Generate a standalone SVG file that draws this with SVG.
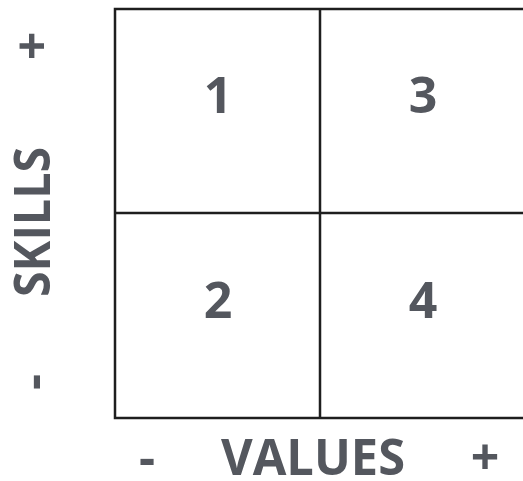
<svg xmlns="http://www.w3.org/2000/svg" width="523" height="481" viewBox="0 0 523 481">
<style>
.t{font-family:"Open Sans","Liberation Sans",sans-serif;font-weight:bold;fill:#54575e}
.n{font-size:50px;text-anchor:middle}
.ax{font-size:50px;text-anchor:middle}
.ln{stroke:#1e1e1e;stroke-width:2.5;fill:none}
</style>
<rect width="523" height="481" fill="#ffffff"/>
<g id="connectors">
<rect class="ln" x="115" y="9" width="420" height="409"/>
<line class="ln" x1="320" y1="9" x2="320" y2="418"/>
<line class="ln" x1="115" y1="213" x2="535" y2="213"/>
</g>
<g id="q1"><text class="t n" x="218" y="113">1</text></g>
<g id="q3"><text class="t n" x="423" y="113">3</text></g>
<g id="q2"><text class="t n" x="218" y="318">2</text></g>
<g id="q4"><text class="t n" x="423" y="318">4</text></g>
<g id="values-axis">
<text class="t ax" x="313" y="475" textLength="184" lengthAdjust="spacingAndGlyphs">VALUES</text>
<text class="t ax" x="147" y="475">-</text>
<text class="t ax" x="485" y="475">+</text>
</g>
<g id="skills-axis">
<text class="t ax" transform="translate(50,222) rotate(-90)" x="0" y="0" textLength="150" lengthAdjust="spacingAndGlyphs">SKILLS</text>
<text class="t ax" transform="translate(50,46) rotate(-90)" x="0" y="0">+</text>
<text class="t ax" transform="translate(50,382) rotate(-90)" x="0" y="0">-</text>
</g>
</svg>
